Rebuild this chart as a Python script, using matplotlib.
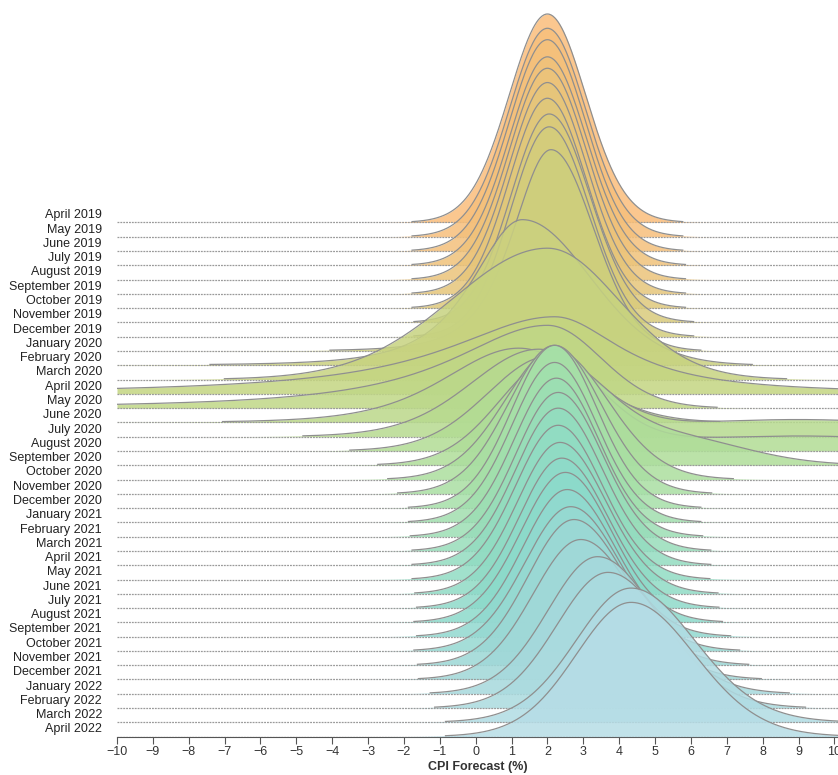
import numpy as np
import matplotlib.pyplot as plt
from matplotlib.colors import LinearSegmentedColormap

months = [
    "April 2019", "May 2019", "June 2019", "July 2019", "August 2019",
    "September 2019", "October 2019", "November 2019", "December 2019",
    "January 2020", "February 2020", "March 2020", "April 2020", "May 2020",
    "June 2020", "July 2020", "August 2020", "September 2020", "October 2020",
    "November 2020", "December 2020", "January 2021", "February 2021",
    "March 2021", "April 2021", "May 2021", "June 2021", "July 2021",
    "August 2021", "September 2021", "October 2021", "November 2021",
    "December 2021", "January 2022", "February 2022", "March 2022", "April 2022",
]

# main mode of each month's forecast distribution (%)
mode = [2.0, 2.0, 2.0, 2.0, 2.0, 2.0, 2.0, 2.05, 2.05, 2.1,
        1.3, 2.0, 2.2, 2.0, 1.2, 1.7, 2.0, 2.1, 2.2, 2.2,
        2.2, 2.2, 2.25, 2.3, 2.3, 2.3, 2.35, 2.4, 2.5, 2.55,
        2.65, 2.74, 2.93, 3.4, 3.69, 4.33, 4.33]
# peak height (row spacing = 1)
peak = [14.6, 14.6, 14.8, 14.6, 14.8, 14.8, 14.7, 14.6, 14.7, 14.1,
        10.2, 9.2, 5.4, 5.8, 5.2, 5.9, 6.4, 7.0, 9.1, 10.4,
        11.4, 11.2, 11.1, 11.1, 11.0, 10.8, 10.6, 10.5, 10.5, 10.3,
        10.1, 10.2, 9.8, 9.6, 9.5, 9.4, 9.4]
# spread left / right of the mode
spread_left = [1.08, 1.08, 1.08, 1.08, 1.08, 1.08, 1.08, 1.08, 1.08, 1.1,
               1.45, 2.7, 3.5, 3.0, 2.1, 1.9, 1.7, 1.5, 1.4, 1.3,
               1.2, 1.2, 1.2, 1.2, 1.2, 1.2, 1.2, 1.2, 1.25, 1.25,
               1.3, 1.3, 1.35, 1.4, 1.45, 1.55, 1.55]
spread_right = [1.08, 1.08, 1.08, 1.1, 1.1, 1.1, 1.1, 1.15, 1.15, 1.2,
                1.9, 2.0, 2.2, 1.5, 1.8, 1.6, 1.5, 1.5, 1.5, 1.3,
                1.2, 1.2, 1.2, 1.25, 1.25, 1.25, 1.3, 1.3, 1.3, 1.35,
                1.4, 1.45, 1.5, 1.6, 1.65, 1.8, 1.8]
# tail heaviness on each side (large = normal, small = fat tails)
tail_left = [40, 40, 40, 40, 40, 40, 40, 40, 40, 4,
             3, 40, 1.2, 1.5, 6, 15, 40, 40, 40, 40,
             40, 40, 40, 40, 40, 40, 40, 40, 40, 40,
             40, 40, 40, 40, 40, 40, 40]
tail_right = [40, 40, 40, 40, 40, 40, 40, 40, 40, 40,
              40, 40, 1.2, 40, 40, 40, 40, 40, 40, 40,
              40, 40, 40, 40, 40, 40, 40, 40, 40, 40,
              40, 40, 40, 40, 40, 40, 40]
# secondary mass at high forecasts (position, spread, height)
bump_pos = [0] * 15 + [9.0, 9.0, 5.5] + [0] * 19
bump_sd = [1] * 15 + [4.0, 4.0, 2.0] + [1] * 19
bump_h = [0] * 15 + [1.2, 1.05, 1.9] + [0] * 19

ticks = list(range(-10, 11))

colors = ["#fbbd7b", "#ecc47a", "#d2cd7c", "#c4d581", "#b2dc94",
          "#a6e0a8", "#93dcc0", "#8cdacb", "#a0d8d8", "#b6dde6"]
cmap = LinearSegmentedColormap.from_list("ridge", colors)


def density(x, i):
    left = x < mode[i]
    s = np.where(left, spread_left[i], spread_right[i])
    nu = np.where(left, tail_left[i], tail_right[i])
    z = (x - mode[i]) / s
    core = (1 + z ** 2 / nu) ** (-(nu + 1) / 2)
    extra = bump_h[i] * np.exp(-0.5 * ((x - bump_pos[i]) / bump_sd[i]) ** 2)
    return peak[i] * core + extra


plt.rcParams['font.family'] = ['Liberation Sans', 'DejaVu Sans']

fig = plt.figure(figsize=(8.38, 7.75), dpi=100)
ax = fig.add_axes([117 / 838, 38.4 / 775, 721 / 838, 736.6 / 775])

n = len(months)
x = np.linspace(-10, 10.1, 800)
for i in range(n):
    base = -i
    y = density(x, i)
    col = cmap(i / (n - 1))
    ax.fill_between(x, base, base + y, color=col, alpha=0.85, lw=0, zorder=3 * i)
    ax.plot(x, np.full_like(x, base), color='#9a9a9a', lw=0.9,
            ls=(0, (1.5, 0.8)), zorder=3 * i + 1)
    ax.plot(x, np.ma.masked_where(y < 0.06, base + y), color='#8f8f8f', lw=0.9,
            zorder=3 * i + 2)
    ax.text(-10.42, base + 0.5, months[i], ha='right', va='center',
            fontsize=9, color='#222222', clip_on=False)

ax.set_xlim(-10, 10.1)
ax.set_ylim(-36, 15.58)
for s in ['top', 'right', 'left']:
    ax.spines[s].set_visible(False)
ax.spines['bottom'].set_color('#555555')
ax.set_yticks([])
ax.set_xticks(ticks)
ax.set_xticklabels([str(t).replace('-', '\u2212') for t in ticks])
ax.tick_params(axis='x', length=5, pad=2, color='#555555', labelsize=9,
               labelcolor='#333333')
ax.set_xlabel("CPI Forecast (%)", fontsize=9, fontweight='bold',
              color='#333333', labelpad=2)

fig.savefig("out.png", dpi=100)
